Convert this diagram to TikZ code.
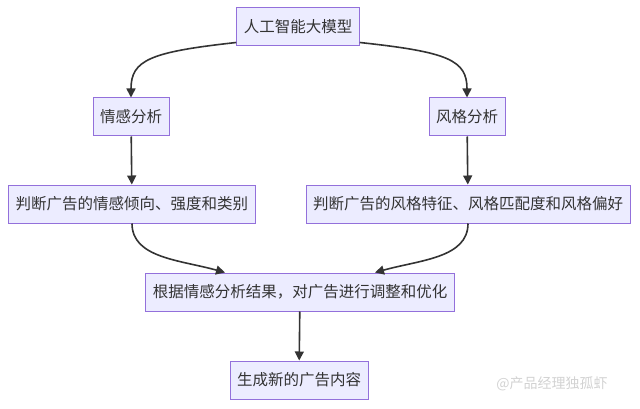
\documentclass[tikz,border=0pt]{standalone}
\usepackage{fontspec}
\setmainfont{Noto Sans CJK SC}
\usetikzlibrary{arrows.meta}
\definecolor{nodefill}{HTML}{ECECFF}
\definecolor{nodeborder}{HTML}{9370DB}
\definecolor{edgecol}{HTML}{333333}
\tikzset{
  box/.style={draw=nodeborder, fill=nodefill, line width=1pt, inner xsep=7pt, minimum height=38pt, font=\fontsize{15.5}{18}\selectfont, text=edgecol},
  conn/.style={draw=edgecol, line width=1.6pt, -{Triangle[length=9pt,width=9pt]}},
}
\begin{document}
\begin{tikzpicture}[x=1pt,y=-1pt]
\useasboundingbox (0,0) rectangle (640,409);
\node[box] (top) at (298,27) {人工智能大模型};
\node[box] (qg) at (131,117) {情感分析};
\node[box] (fg) at (467,117) {风格分析};
\node[box] (ql) at (132,204) {判断广告的情感倾向、强度和类别};
\node[box] (fl) at (468,204) {判断广告的风格特征、风格匹配度和风格偏好};
\node[box] (mg) at (300,292) {根据情感分析结果，对广告进行调整和优化};
\node[box] (fin) at (299,380) {生成新的广告内容};
\node[text=gray!35, font=\fontsize{14}{16}\selectfont] (wm) at (552,384) {@产品经理独孤虾};
\draw[conn] (top.south west) ++(0,-4) coordinate (t1) .. controls (150,52) and (131,60) .. (qg.north);
\draw[conn] (top.south east) ++(0,-4) coordinate (t2) .. controls (448,52) and (467,60) .. (fg.north);
\draw[conn] (qg) -- (ql);
\draw[conn] (fg) -- (fl);
\draw[conn] (ql.south) .. controls (132,258) and (180,260) .. ([xshift=-75pt]mg.north);
\draw[conn] (fl.south) .. controls (468,258) and (420,260) .. ([xshift=75pt]mg.north);
\draw[conn] (mg) -- (fin);
\end{tikzpicture}
\end{document}
